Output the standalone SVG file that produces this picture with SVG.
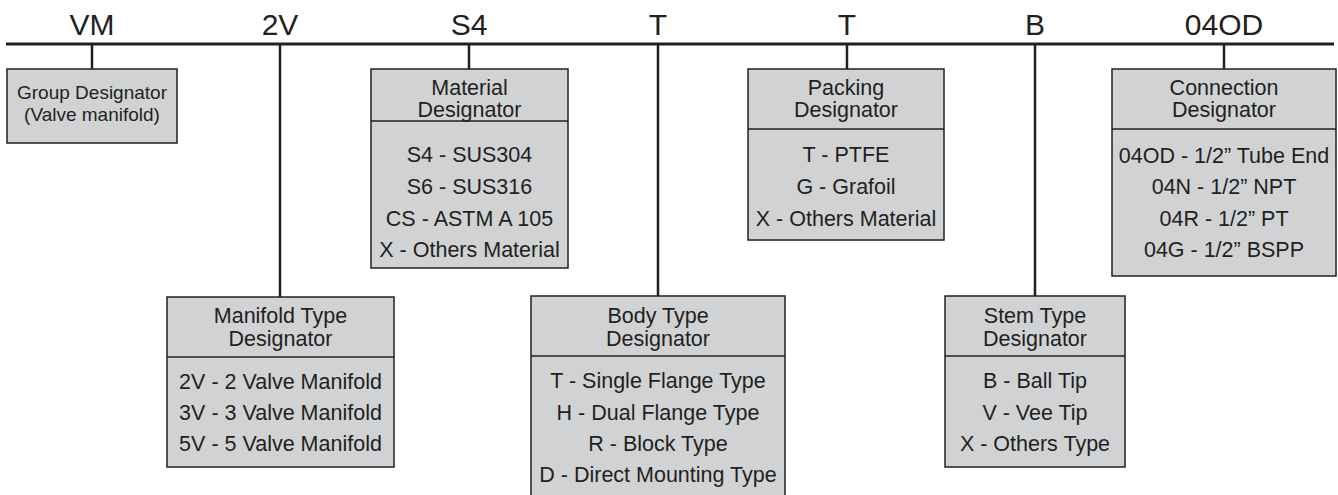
<svg xmlns="http://www.w3.org/2000/svg" width="1338" height="495" viewBox="0 0 1338 495">
  <style>
    .code { font-family: "Liberation Sans", Arial, sans-serif; font-size: 30px; fill: #231f20; text-anchor: middle; }
    .t { font-family: "Liberation Sans", Arial, sans-serif; font-size: 21.5px; fill: #231f20; text-anchor: middle; }
    .g { font-family: "Liberation Sans", Arial, sans-serif; font-size: 19px; fill: #231f20; text-anchor: middle; }
    .box { fill: #d1d2d4; stroke: #231f20; stroke-width: 1.5; }
    .div { stroke: #231f20; stroke-width: 1.5; }
    .conn line { stroke: #231f20; stroke-width: 2.5; }
  </style>

  <!-- code segments above the bar -->
  <g id="codes">
    <text class="code" x="92" y="35">VM</text>
    <text class="code" x="280" y="35">2V</text>
    <text class="code" x="469" y="35">S4</text>
    <text class="code" x="658" y="35">T</text>
    <text class="code" x="847" y="35">T</text>
    <text class="code" x="1035" y="35">B</text>
    <text class="code" x="1224" y="35">04OD</text>
  </g>

  <!-- bar and drop lines -->
  <g id="connectors" class="conn">
    <line x1="6" y1="44" x2="1334" y2="44" style="stroke-width:3"/>
    <line x1="92" y1="44" x2="92" y2="69"/>
    <line x1="280" y1="44" x2="280" y2="297"/>
    <line x1="469" y1="44" x2="469" y2="69"/>
    <line x1="658" y1="44" x2="658" y2="296"/>
    <line x1="847" y1="44" x2="847" y2="69"/>
    <line x1="1035" y1="44" x2="1035" y2="296"/>
    <line x1="1224" y1="44" x2="1224" y2="69"/>
  </g>

  <g id="group">
    <rect class="box" x="7" y="69" width="170" height="74"/>
    <text class="g" x="92" y="99">Group Designator</text>
    <text class="g" x="92" y="121">(Valve manifold)</text>
  </g>

  <g id="manifold">
    <rect class="box" x="167" y="297" width="227" height="170"/>
    <line class="div" x1="167" y1="357" x2="394" y2="357"/>
    <text class="t" x="280.5" y="322.5">Manifold Type</text>
    <text class="t" x="280.5" y="345.5">Designator</text>
    <text class="t" x="280.5" y="389">2V - 2 Valve Manifold</text>
    <text class="t" x="280.5" y="420">3V - 3 Valve Manifold</text>
    <text class="t" x="280.5" y="451">5V - 5 Valve Manifold</text>
  </g>

  <g id="material">
    <rect class="box" x="371" y="69" width="197" height="199"/>
    <line class="div" x1="371" y1="121" x2="568" y2="121"/>
    <text class="t" x="469.5" y="94.5">Material</text>
    <text class="t" x="469.5" y="116.5">Designator</text>
    <text class="t" x="469.5" y="161.5">S4 - SUS304</text>
    <text class="t" x="469.5" y="193.5">S6 - SUS316</text>
    <text class="t" x="469.5" y="225.5">CS - ASTM A 105</text>
    <text class="t" x="469.5" y="256.5">X - Others Material</text>
  </g>

  <g id="body">
    <rect class="box" x="531" y="296" width="254" height="203"/>
    <line class="div" x1="531" y1="356" x2="785" y2="356"/>
    <text class="t" x="658" y="322.5">Body Type</text>
    <text class="t" x="658" y="345.5">Designator</text>
    <text class="t" x="658" y="388">T - Single Flange Type</text>
    <text class="t" x="658" y="419.5">H - Dual Flange Type</text>
    <text class="t" x="658" y="450.5">R - Block Type</text>
    <text class="t" x="658" y="482">D - Direct Mounting Type</text>
  </g>

  <g id="packing">
    <rect class="box" x="748" y="69" width="196" height="171"/>
    <line class="div" x1="748" y1="129" x2="944" y2="129"/>
    <text class="t" x="846" y="94.5">Packing</text>
    <text class="t" x="846" y="116.5">Designator</text>
    <text class="t" x="846" y="161.5">T - PTFE</text>
    <text class="t" x="846" y="193.5">G - Grafoil</text>
    <text class="t" x="846" y="225.5">X - Others Material</text>
  </g>

  <g id="stem">
    <rect class="box" x="945" y="296" width="180" height="171"/>
    <line class="div" x1="945" y1="356" x2="1125" y2="356"/>
    <text class="t" x="1035" y="322.5">Stem Type</text>
    <text class="t" x="1035" y="345.5">Designator</text>
    <text class="t" x="1035" y="388">B - Ball Tip</text>
    <text class="t" x="1035" y="419.5">V - Vee Tip</text>
    <text class="t" x="1035" y="450.5">X - Others Type</text>
  </g>

  <g id="connection">
    <rect class="box" x="1112" y="69" width="224" height="207"/>
    <line class="div" x1="1112" y1="129" x2="1336" y2="129"/>
    <text class="t" x="1224" y="94.5">Connection</text>
    <text class="t" x="1224" y="116.5">Designator</text>
    <text class="t" x="1224" y="162.5">04OD - 1/2” Tube End</text>
    <text class="t" x="1224" y="193.5">04N - 1/2” NPT</text>
    <text class="t" x="1224" y="225.5">04R - 1/2” PT</text>
    <text class="t" x="1224" y="256.5">04G - 1/2” BSPP</text>
  </g>
</svg>
